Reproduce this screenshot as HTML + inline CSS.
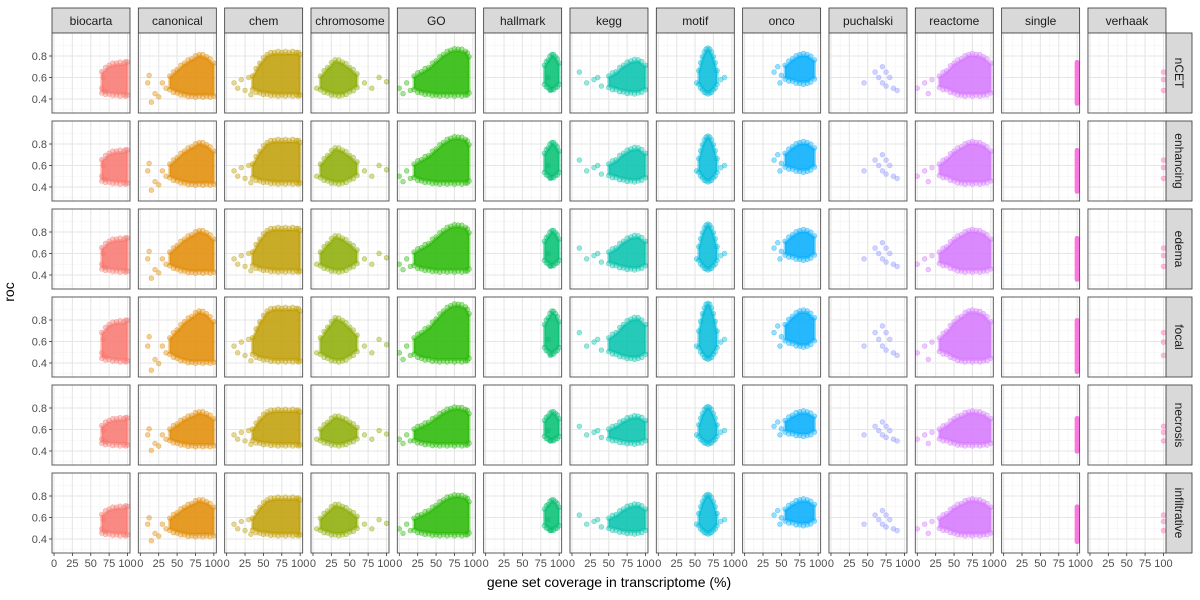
<!DOCTYPE html>
<html><head><meta charset="utf-8">
<style>
html,body{margin:0;padding:0;background:#fff;}
svg{display:block;font-family:"Liberation Sans",sans-serif;}
</style></head>
<body>
<svg id="chart" width="1200" height="600" viewBox="0 0 1200 600" xmlns="http://www.w3.org/2000/svg"></svg>
<script>
const collections = ["biocarta","canonical","chem","chromosome","GO","hallmark","kegg","motif","onco","puchalski","reactome","single","verhaak"];
const colors = ["#F8766D","#E18A00","#BE9C00","#8CAB00","#24B700","#00BE70","#00C1AB","#00BBDA","#00ACFC","#8B93FF","#D575FE","#F962DD","#FF65AC"];
const regions = ["nCET","enhancing","edema","focal","necrosis","infiltrative"];
const xTicks = [0,25,50,75,100];
const yTicks = [0.4,0.6,0.8];
// dense envelope per collection: x bins, lower and upper roc
const envX = [[65,75,85,95,100],[40,50,60,70,80,90,100],[35,45,55,65,75,85,95,100],[10,20,30,40,50,60],[20,30,40,50,60,70,80,90,95],[80,85,90,95,100],[50,60,70,80,90,100],[55,60,65,70,75,80],[55,65,75,85,95],[],[30,40,50,60,70,80,90,100],[99,100],[]];
const envLo = [[.47,.46,.45,.45,.45],[.5,.47,.45,.44,.44,.44,.44],[.5,.47,.46,.45,.45,.45,.45,.45],[.5,.47,.45,.45,.48,.52],[.5,.47,.46,.45,.45,.45,.45,.45,.47],[.55,.52,.5,.52,.55],[.52,.5,.48,.47,.47,.5],[.55,.5,.47,.47,.5,.55],[.6,.58,.56,.56,.6],[],[.52,.5,.47,.45,.45,.45,.45,.47],[.36,.36],[]];
const envHi = [[.64,.7,.72,.72,.73],[.6,.66,.72,.76,.8,.78,.72],[.6,.72,.8,.82,.82,.82,.82,.8],[.6,.68,.75,.73,.68,.62],[.6,.64,.68,.74,.8,.84,.85,.83,.78],[.7,.75,.8,.78,.72],[.6,.64,.7,.74,.75,.7],[.65,.78,.85,.85,.78,.65],[.7,.76,.8,.8,.75],[],[.6,.65,.72,.76,.8,.8,.78,.72],[.74,.74],[]];
// sparse outlier points per collection [coverage, roc]
const outliers = [
 [[65,.5],[67,.6],[70,.47]],
 [[10,.55],[15,.37],[20,.45],[25,.42],[30,.55],[35,.5],[12,.62]],
 [[10,.55],[15,.5],[20,.58],[25,.48],[30,.6],[33,.44]],
 [[5,.5],[70,.55],[90,.6],[100,.56],[80,.5]],
 [[0,.5],[5,.45],[10,.55],[15,.48]],
 [[85,.6],[88,.48]],
 [[10,.65],[20,.55],[30,.58],[40,.52],[35,.6]],
 [[52,.55],[85,.58],[90,.6]],
 [[40,.65],[45,.7],[50,.62],[48,.55]],
 [[45,.55],[60,.65],[65,.6],[70,.55],[75,.65],[80,.6],[85,.5],[70,.7],[75,.52],[90,.48]],
 [[0,.5],[10,.55],[15,.45],[20,.58]],
 [],
 [[100,.65],[100,.58],[100,.48]]
];
const rowShift = [0,0,0,0.02,-0.01,-0.02];
const rowSpread = [1,1,1,1.25,0.8,0.85];

const svg = document.getElementById('chart');
const NS = "http://www.w3.org/2000/svg";
function mk(tag, attrs, parent){const e=document.createElementNS(NS,tag);for(const k in attrs)e.setAttribute(k,attrs[k]);(parent||svg).appendChild(e);return e;}
const X0=52, XSTEP=86.33, PW=78, Y0=33, YSTEP=88, PH=80;
function xs(c,v){return X0+c*XSTEP+2+v*0.735;}
function ys(r,v){return Y0+r*YSTEP+23+(0.8-v)*107.5;}
function tr(r,v){const m=0.6;return m+rowShift[r]+(v-m)*rowSpread[r];}
function dot(parent,cx,cy,col){
  const d=mk('circle',{cx:cx,cy:cy,r:2.4,fill:col,'fill-opacity':0.4,stroke:col,'stroke-opacity':0.5,'stroke-width':0.6},parent);
  
  
}

collections.forEach((name,c)=>{
  const g=mk('g',{});
  
  
  mk('rect',{x:X0+c*XSTEP,y:8,width:PW,height:25,fill:'#d9d9d9',stroke:'#333','stroke-width':0.8},g);
  const t=mk('text',{x:X0+c*XSTEP+PW/2,y:25,'text-anchor':'middle','font-size':12,fill:'#1a1a1a'},g);t.textContent=name;
});
regions.forEach((name,r)=>{
  const g=mk('g',{});
  
  
  const y=Y0+r*YSTEP;
  mk('rect',{x:1166,y:y,width:26,height:PH,fill:'#d9d9d9',stroke:'#333','stroke-width':0.8},g);
  const t=mk('text',{x:1179,y:y+PH/2,'text-anchor':'middle','dominant-baseline':'central','font-size':12,fill:'#1a1a1a',transform:`rotate(90 1179 ${y+PH/2})`},g);t.textContent=name;
});

for(let r=0;r<regions.length;r++){
  for(let c=0;c<collections.length;c++){
    const px=X0+c*XSTEP, py=Y0+r*YSTEP;
    const g=mk('g',{});
    
    
    mk('rect',{x:px,y:py,width:PW,height:PH,fill:'#fff'},g);
    const clip=mk('clipPath',{id:`cp${r}_${c}`},g);
    mk('rect',{x:px,y:py,width:PW,height:PH},clip);
    const inner=mk('g',{'clip-path':`url(#cp${r}_${c})`},g);
    [12.5,37.5,62.5,87.5].forEach(v=>mk('line',{x1:xs(c,v),x2:xs(c,v),y1:py,y2:py+PH,stroke:'#f2f2f2','stroke-width':0.6},inner));
    [0.3,0.5,0.7,0.9].forEach(v=>mk('line',{x1:px,x2:px+PW,y1:ys(r,v),y2:ys(r,v),stroke:'#f2f2f2','stroke-width':0.6},inner));
    xTicks.forEach(v=>mk('line',{x1:xs(c,v),x2:xs(c,v),y1:py,y2:py+PH,stroke:'#e6e6e6','stroke-width':1.1},inner));
    yTicks.forEach(v=>mk('line',{x1:px,x2:px+PW,y1:ys(r,v),y2:ys(r,v),stroke:'#e6e6e6','stroke-width':1.1},inner));
    const col=colors[c];
    const ex=envX[c], lo=envLo[c], hi=envHi[c];
    if(ex.length){
      if(collections[c]==='single'){
        const l=mk('line',{x1:xs(c,100),x2:xs(c,100),y1:ys(r,tr(r,hi[0])),y2:ys(r,tr(r,lo[0])),stroke:col,'stroke-width':5,'stroke-linecap':'round','stroke-opacity':0.85},inner);
        
        
      } else {
        let pts=[];
        ex.forEach((v,i)=>pts.push(xs(c,v)+','+ys(r,tr(r,hi[i]))));
        for(let i=ex.length-1;i>=0;i--)pts.push(xs(c,ex[i])+','+ys(r,tr(r,lo[i])));
        const poly=mk('polygon',{points:pts.join(' '),fill:col,'fill-opacity':0.85,stroke:col,'stroke-width':3,'stroke-opacity':0.45,'stroke-linejoin':'round'},inner);
        
        
        ex.forEach((v,i)=>{
          dot(inner,xs(c,v),ys(r,tr(r,hi[i]))-1.5,col);
          dot(inner,xs(c,v),ys(r,tr(r,lo[i]))+1.5,col);
          if(i<ex.length-1){
            const mx=(v+ex[i+1])/2;
            dot(inner,xs(c,mx),ys(r,tr(r,(hi[i]+hi[i+1])/2))-2.5,col);
            dot(inner,xs(c,mx),ys(r,tr(r,(lo[i]+lo[i+1])/2))+2.5,col);
          }
        });
      }
    }
    outliers[c].forEach(p=>dot(inner,xs(c,p[0]),ys(r,tr(r,p[1])),col));
    mk('rect',{x:px,y:py,width:PW,height:PH,fill:'none',stroke:'#4d4d4d','stroke-width':0.9},g);
  }
  yTicks.forEach(v=>{
    const y=ys(r,v);
    mk('line',{x1:49,x2:52,y1:y,y2:y,stroke:'#333','stroke-width':0.8});
    const t=mk('text',{x:47,y:y+4,'text-anchor':'end','font-size':11,fill:'#4d4d4d'});
    
    
    t.textContent=v.toFixed(1);
  });
}
for(let c=0;c<collections.length;c++){
  xTicks.forEach(v=>{
    const x=xs(c,v);
    mk('line',{x1:x,x2:x,y1:Y0+5*YSTEP+PH,y2:Y0+5*YSTEP+PH+3,stroke:'#333','stroke-width':0.8});
    const t=mk('text',{x:x,y:567,'text-anchor':'middle','font-size':11,fill:'#4d4d4d'});
    
    
    t.textContent=v;
  });
}
const xt=mk('text',{x:609,y:587,'text-anchor':'middle','font-size':14,fill:'#000'});


xt.textContent='gene set coverage in transcriptome (%)';
const yt=mk('text',{x:14,y:292,'text-anchor':'middle','font-size':14,fill:'#000',transform:'rotate(-90 14 292)'});


yt.textContent='roc';
</script>
</body></html>
